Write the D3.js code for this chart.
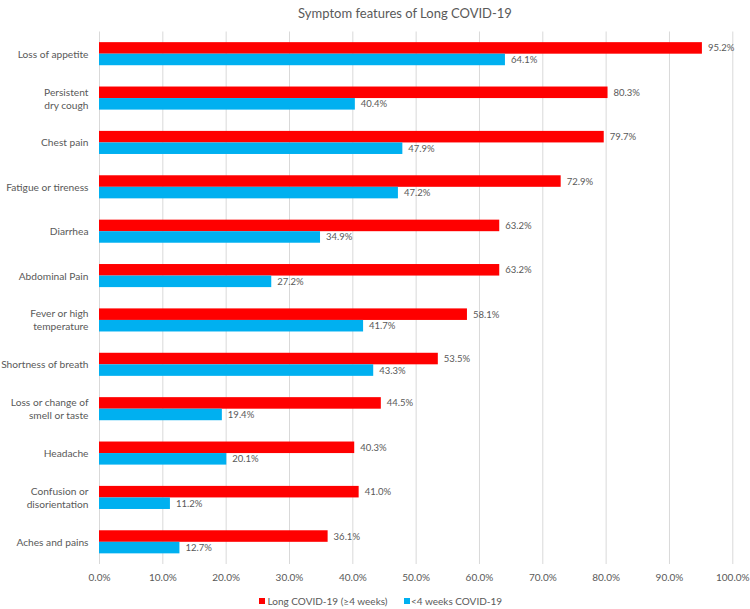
<!DOCTYPE html>
<html><head><meta charset="utf-8">
<script src="https://cdn.jsdelivr.net/npm/d3@7"></script>
<style>body{margin:0;background:#fff}</style>
</head><body>
<svg id="c" width="750" height="609"></svg>
<script>
const categories = ["Loss of appetite","Persistent\ndry cough","Chest pain","Fatigue or tireness","Diarrhea","Abdominal Pain","Fever or high\ntemperature","Shortness of breath","Loss or change of\nsmell or taste","Headache","Confusion or\ndisorientation","Aches and pains"];
const longCovid = [95.2,80.3,79.7,72.9,63.2,63.2,58.1,53.5,44.5,40.3,41.0,36.1];
const shortCovid = [64.1,40.4,47.9,47.2,34.9,27.2,41.7,43.3,19.4,20.1,11.2,12.7];
const xTicks = [0,10,20,30,40,50,60,70,80,90,100];
const seriesNames = ["Long COVID-19 (\u22654 weeks)","<4 weeks COVID-19"];
const colors = ["#FF0000","#00B0F0"];

const svg = d3.select("#c");
const font = "Lato, 'Open Sans', sans-serif";
const txt = "#595959";
const x = d3.scaleLinear().domain([0,100]).range([99,732.3]);
const y = d3.scaleBand().domain(categories).range([31.5,564]).paddingInner(0.48).paddingOuter(0.24);

svg.append("text").attr("x",405).attr("y",18).attr("text-anchor","middle")
  .attr("font-family",font).attr("font-size",13).attr("fill",txt).text("Symptom features of Long COVID-19");

// grid
svg.append("g").selectAll("line").data(xTicks).join("line")
  .attr("x1",d=>x(d)+0.5).attr("x2",d=>x(d)+0.5).attr("y1",31.5).attr("y2",564)
  .attr("stroke","#D9D9D9").attr("stroke-width",1);

// x axis labels
const xa = svg.append("g").attr("transform","translate(0,564)")
  .call(d3.axisBottom(x).tickValues(xTicks).tickFormat(d=>d.toFixed(1)+"%").tickSize(0).tickPadding(10));
xa.select(".domain").remove();
xa.selectAll("text").attr("font-family",font).attr("font-size",10).attr("fill",txt);

// y labels
const yl = svg.append("g");
categories.forEach(c=>{
  const lines = c.split("\n");
  const cy = y(c)+y.bandwidth()/2;
  const t = yl.append("text").attr("x",88.5).attr("text-anchor","end")
    .attr("font-family",font).attr("font-size",10.2).attr("fill",txt);
  lines.forEach((l,i)=>{
    t.append("tspan").attr("x",88.5).attr("y",cy+(i-(lines.length-1)/2)*13+4).text(l);
  });
});

const bh = y.bandwidth()/2;
const data = categories.map((c,i)=>({c,v:[longCovid[i],shortCovid[i]]}));
[0,1].forEach(s=>{
  const g = svg.append("g");
  g.selectAll("rect").data(data).join("rect")
    .attr("x",x(0)).attr("y",d=>y(d.c)+s*bh).attr("height",bh)
    .attr("width",d=>x(d.v[s])-x(0)).attr("fill",colors[s]);
  g.selectAll("text").data(data).join("text")
    .attr("x",d=>x(d.v[s])+6).attr("y",d=>y(d.c)+s*bh+bh/2+3.5)
    .attr("font-family",font).attr("font-size",9.5).attr("fill",txt)
    .text(d=>d.v[s].toFixed(1)+"%");
});

// legend
const lg = [{x:259,tx:267.5},{x:404,tx:411}];
lg.forEach((p,i)=>{
  svg.append("rect").attr("x",p.x).attr("y",598).attr("width",6).attr("height",6).attr("fill",colors[i]);
  svg.append("text").attr("x",p.tx).attr("y",605).attr("font-family",font).attr("font-size",10)
    .attr("fill",txt).text(seriesNames[i]);
});
</script>
</body></html>
